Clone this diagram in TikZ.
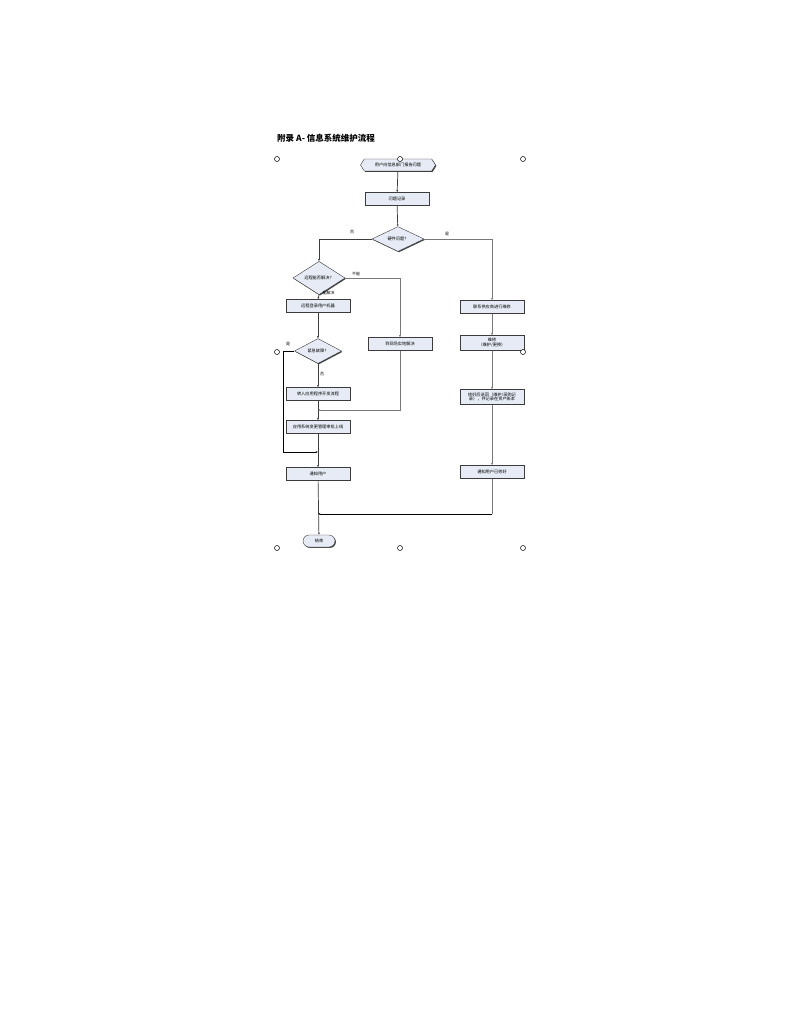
\documentclass[tikz,border=0pt]{standalone}
\usepackage{fontspec}
\setmainfont{Noto Sans CJK SC}
\usetikzlibrary{shapes.geometric,shapes.misc,shapes.symbols,arrows.meta,shadows}
\definecolor{boxfill}{RGB}{230,235,245}
\definecolor{linecol}{RGB}{60,60,60}
\definecolor{graycol}{RGB}{120,120,120}
\begin{document}
\begin{tikzpicture}[x=1pt,y=-1pt,
  every node/.style={font=\fontsize{4.2}{5}\selectfont},
  shad/.style={drop shadow={shadow xshift=0.9pt,shadow yshift=-0.9pt,fill=black!75,opacity=1}},
  proc/.style={draw=linecol,line width=0.4pt,fill=boxfill,minimum width=64pt,minimum height=13pt,inner sep=1pt,align=center,shad},
  dec/.style={diamond,draw=linecol,line width=0.4pt,fill=boxfill,minimum width=52pt,minimum height=19pt,inner sep=0pt,shad},
  hexa/.style={signal,signal to=west and east,signal pointer angle=115,draw=linecol,line width=0.4pt,fill=boxfill,minimum width=75pt,minimum height=12pt,inner sep=1pt,shad},
  term/.style={rounded rectangle,draw=linecol,line width=0.4pt,fill=boxfill,minimum width=34pt,minimum height=12pt,inner sep=1pt,shad},
  handle/.style={circle,draw=black,line width=0.5pt,fill=white,minimum size=5pt,inner sep=0pt},
  arr/.style={draw=linecol,line width=0.7pt,-{Latex[length=2.2pt,width=2pt]}},
  garr/.style={draw=graycol,line width=0.7pt,-{Latex[length=2.2pt,width=2pt]}},
  ln/.style={draw=black,line width=0.9pt},
  gln/.style={draw=graycol,line width=0.7pt},
  lbl/.style={font=\fontsize{4}{5}\selectfont,inner sep=0.5pt}]
\useasboundingbox (0,0) rectangle (791,1024);
\fill[white] (0,0) rectangle (791,1024);

\node[anchor=west,font=\fontsize{8.5}{10}\selectfont\bfseries,inner sep=0pt] (title) at (277,138) {附录 A- 信息系统维护流程};

% nodes
\node[hexa] (start) at (398,165) {用户向信息部门报告问题};
\node[proc] (rec) at (397,199) {问题记录};
\node[dec] (d1) at (398,239) {硬件问题？};
\node[dec] (d2) at (319,278) {远程能否解决？};
\node[proc] (remote) at (318,306) {远程登录用户机器};
\node[dec,minimum width=47pt] (d3) at (318,351) {紧急故障？};
\node[proc] (onsite) at (400,344) {到现场实地解决};
\node[proc] (dev) at (318,394) {转入应用程序开发流程};
\node[proc] (chg) at (318,427) {应用系统变更管理审批上线};
\node[proc] (notify) at (318,474) {通知用户};
\node[term] (end) at (319,541) {结束};

\node[proc] (r1) at (492,307) {联系供应商进行维修};
\node[proc,minimum height=15pt,font=\fontsize{4.2}{4.8}\selectfont] (r2) at (492,343) {维修\\（维护/更换）};
\node[proc,minimum height=15pt,font=\fontsize{4.2}{4.8}\selectfont] (r3) at (492,397) {修好后送回（维护/采购记\\录），并记录在资产账本};
\node[proc] (r4) at (492,472) {通知用户已修好};

% merge points
\coordinate (m1) at (318,410);
\coordinate (m2) at (318,452);
\coordinate (m3) at (318,514);
\coordinate (byp) at (283,351);
\coordinate (rc) at (492,514);

% connectors
\draw[arr] (start) -- (rec);
\draw[arr] (rec) -- (d1);
\draw[arr] (d1.west) -| (d2.north);
\draw[garr] (d1.east) -| (r1.north);
\draw[garr] (d2.east) -| (onsite.north);
\draw[arr] (d2.south) -- (remote.north);
\draw[arr] (remote) -- (d3);
\draw[arr] (d3.south) -- (dev.north);
\draw[arr] (dev) -- (chg);
\draw[garr] (onsite.south) |- (m1);
\draw[arr] (chg) -- (notify);
\draw[ln] (d3.west) -- (byp);
\draw[ln,-{Latex[length=2.2pt,width=2pt]}] (byp) |- (m2);
\draw[arr] (notify) -- (end);
\draw[gln] (r4.south) -- (rc);
\draw[ln,-{Latex[length=2.2pt,width=2pt]}] (rc) -- (m3);
\draw[garr] (r1) -- (r2);
\draw[garr] (r2) -- (r3);
\draw[garr] (r3) -- (r4);

% labels
\node[lbl] (l1) at (352,232) {否};
\node[lbl] (l2) at (447,234) {是};
\node[lbl] (l3) at (356,274) {不能};
\node[lbl,anchor=west] (l4) at (322,293) {能解决};
\node[lbl] (l5) at (288,344) {是};
\node[lbl] (l6) at (322,374) {否};

% page handles
\node[handle] (h1) at (277,159) {};
\node[handle] (h2) at (400,159) {};
\node[handle] (h3) at (523,159) {};
\node[handle] (h4) at (277,352) {};
\node[handle] (h5) at (523,352) {};
\node[handle] (h6) at (277,548) {};
\node[handle] (h7) at (400,548) {};
\node[handle] (h8) at (523,548) {};
\end{tikzpicture}
\end{document}
